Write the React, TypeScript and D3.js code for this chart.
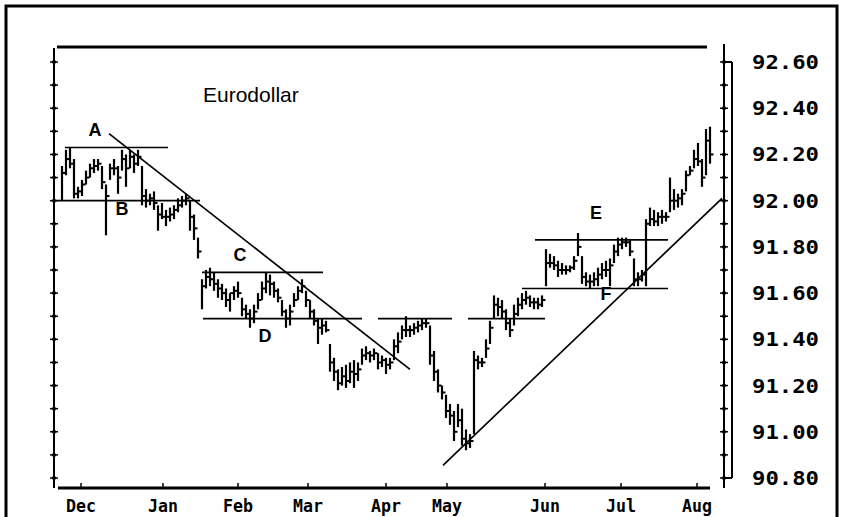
import React from "react";
import * as d3 from "d3";

// ---- data ----
const highs = [
  92.15, 92.22, 92.23, 92.18, 92.06, 92.09, 92.13, 92.16, 92.18, 92.18,
  92.15, 92.07, 92.16, 92.18, 92.15, 92.22, 92.2, 92.22, 92.2, 92.22,
  92.15, 92.05, 92.03, 92.04, 91.98, 91.99, 91.96, 91.97, 91.98, 92.01,
  92.02, 92.03, 92.0, 91.94, 91.84, 91.66, 91.7, 91.71, 91.69, 91.66,
  91.64, 91.62, 91.6, 91.63, 91.65, 91.58, 91.55, 91.53, 91.55, 91.6,
  91.65, 91.69, 91.68, 91.65, 91.62, 91.57, 91.53, 91.55, 91.6, 91.63,
  91.66, 91.61, 91.57, 91.53, 91.49, 91.49, 91.48, 91.38, 91.32, 91.27,
  91.28, 91.29, 91.3, 91.31, 91.3, 91.36, 91.37, 91.35, 91.36, 91.34,
  91.33, 91.32, 91.32, 91.4, 91.43, 91.46, 91.5, 91.46, 91.47, 91.48,
  91.49, 91.49, 91.46, 91.35, 91.27, 91.2, 91.16, 91.12, 91.09, 91.12,
  91.1, 91.01, 90.99, 91.35, 91.33, 91.32, 91.4, 91.48, 91.59, 91.58,
  91.57, 91.53, 91.49, 91.55, 91.58, 91.6, 91.61, 91.59, 91.58, 91.58,
  91.59, 91.79, 91.77, 91.76, 91.74, 91.73, 91.72, 91.72, 91.76, 91.86,
  91.76, 91.69, 91.68, 91.69, 91.71, 91.73, 91.74, 91.75, 91.81, 91.84,
  91.84, 91.84, 91.83, 91.75, 91.69, 91.7, 91.92, 91.97, 91.96, 91.95,
  91.96, 91.95, 92.1, 92.05, 92.03, 92.05, 92.13, 92.15, 92.22, 92.25,
  92.18, 92.31, 92.32,
];
const lows = [
  92.0, 92.11, 92.14, 92.01, 92.01, 92.02, 92.07, 92.1, 92.12, 92.13,
  92.05, 91.85, 92.09, 92.11, 92.03, 92.13, 92.06, 92.14, 92.12, 92.15,
  91.98, 91.97, 91.98, 91.96, 91.87, 91.92, 91.89, 91.91, 91.92, 91.95,
  91.97, 91.98, 91.87, 91.83, 91.75, 91.53, 91.62, 91.63, 91.61, 91.58,
  91.57, 91.54, 91.52, 91.57, 91.58, 91.5, 91.49, 91.45, 91.47, 91.53,
  91.57, 91.6, 91.59, 91.58, 91.56, 91.5, 91.45, 91.46, 91.54, 91.57,
  91.6, 91.54, 91.49, 91.46, 91.38, 91.42, 91.43, 91.26, 91.22, 91.18,
  91.2, 91.19, 91.21, 91.19, 91.22, 91.29, 91.31, 91.3, 91.31, 91.27,
  91.28, 91.25, 91.27, 91.31, 91.34, 91.4, 91.41, 91.41, 91.42, 91.43,
  91.44, 91.45, 91.29, 91.22, 91.17, 91.14, 91.06, 91.03, 90.96, 91.02,
  90.94, 90.92, 90.93, 90.99, 91.27, 91.28, 91.32, 91.38, 91.49, 91.5,
  91.49, 91.44, 91.41, 91.46, 91.5, 91.53, 91.55, 91.54, 91.53, 91.53,
  91.54, 91.63, 91.71, 91.7, 91.67, 91.68, 91.68, 91.69, 91.7, 91.76,
  91.64, 91.63, 91.62, 91.63, 91.63, 91.66, 91.67, 91.63, 91.73, 91.76,
  91.79, 91.8, 91.76, 91.63, 91.63, 91.65, 91.63, 91.89, 91.89, 91.89,
  91.9, 91.91, 91.95, 91.96, 91.97, 91.98, 92.04, 92.11, 92.14, 92.15,
  92.06, 92.11, 92.16,
];
const closes = [
  92.12, 92.18, 92.16, 92.03, 92.04, 92.07, 92.1, 92.14, 92.15, 92.16,
  92.08, 92.02, 92.14, 92.14, 92.1, 92.18, 92.14, 92.19, 92.16, 92.19,
  92.02, 92.0, 92.01, 91.99, 91.94, 91.93, 91.93, 91.94, 91.96, 91.98,
  92.0, 92.01, 91.93, 91.88, 91.78, 91.63, 91.67, 91.66, 91.64, 91.62,
  91.6, 91.57, 91.6, 91.61, 91.6, 91.53, 91.51, 91.49, 91.52, 91.57,
  91.62, 91.65, 91.64, 91.61, 91.58, 91.52, 91.49, 91.52, 91.57, 91.61,
  91.63, 91.57, 91.52, 91.48, 91.45, 91.46, 91.44, 91.3, 91.26, 91.21,
  91.24, 91.22, 91.26, 91.25, 91.27, 91.33, 91.34, 91.33, 91.34, 91.3,
  91.31, 91.29, 91.3, 91.37, 91.39, 91.44, 91.44, 91.44, 91.45, 91.46,
  91.47, 91.47, 91.33, 91.26, 91.2, 91.17, 91.09, 91.07, 91.0, 91.05,
  90.97, 90.95, 90.96, 91.31, 91.3, 91.3, 91.36, 91.45, 91.55, 91.54,
  91.52, 91.47, 91.44, 91.51, 91.55, 91.57, 91.58, 91.56, 91.56, 91.55,
  91.57, 91.73, 91.73, 91.72, 91.7, 91.7, 91.7, 91.71, 91.74, 91.8,
  91.67, 91.65, 91.65, 91.66, 91.68, 91.7, 91.7, 91.72, 91.78, 91.81,
  91.82, 91.82, 91.78, 91.66, 91.66, 91.68, 91.9, 91.92, 91.91, 91.93,
  91.93, 91.93, 92.0, 92.0, 92.01, 92.03, 92.11, 92.13, 92.18, 92.17,
  92.1, 92.26, 92.2,
];

const months = ["Dec", "Jan", "Feb", "Mar", "Apr", "May", "Jun", "Jul", "Aug"];
const monthPos = [4.75, 25.25, 44, 61.5, 81, 96.25, 120.75, 139.75, 158.75];

const priceTicks = [92.6, 92.4, 92.2, 92.0, 91.8, 91.6, 91.4, 91.2, 91.0, 90.8];
const minorTicks = d3.range(0, 19).map((i) => +(90.8 + i * 0.1).toFixed(2));

// horizontal support/resistance lines: price, fromIndex, toIndex
const levelPrices = [92.23, 92.0, 91.69, 91.49, 91.49, 91.49, 91.83, 91.62];
const levelFrom = [0.75, -2, 35, 35.25, 79, 101.5, 118.25, 115];
const levelTo = [26.5, 34.5, 65.25, 75, 97.5, 120.75, 151.5, 151.5];

// trend lines: [idx, price] pairs
const downTrend = [[11.75, 92.29], [87, 91.27]];
const upTrend = [[95.25, 90.855], [165, 92.01]];

const letters = ["A", "B", "C", "D", "E", "F"];
const letterIdx = [8.25, 15, 44.5, 50.75, 133.5, 136];
const letterPrice = [92.28, 91.94, 91.74, 91.39, 91.92, 91.57];

export default function App() {
  const W = 842;
  const H = 517;
  const x = d3.scaleLinear().domain([0, 162]).range([62, 710]);
  const y = d3.scaleLinear().domain([90.8, 92.6]).range([478, 62]);
  const mono = "'DejaVu Sans Mono', monospace";
  const sans = "'Liberation Sans', Arial, sans-serif";
  const line = d3.line<number[]>().x((d) => x(d[0])).y((d) => y(d[1]));

  return (
    <svg
      width={W}
      height={H}
      style={{ position: "absolute", left: 0, top: 0, background: "#fff" }}
    >
      <rect x={0} y={0} width={W} height={H} fill="#fff" />
      {/* outer frame */}
      <rect x={6} y={6} width={831} height={530} fill="none" stroke="#000" strokeWidth={3} />

      {/* top line */}
      <line x1={57} x2={707} y1={47} y2={47} stroke="#000" strokeWidth={2.8} />
      {/* left axis */}
      <line x1={54} x2={54} y1={48} y2={488} stroke="#000" strokeWidth={2} />
      {minorTicks.map((p) => (
        <g key={"lt" + p}>
          <line x1={50} x2={58} y1={y(p)} y2={y(p)} stroke="#000" strokeWidth={1.5} />
          <circle cx={54} cy={y(p)} r={2} fill="#000" />
        </g>
      ))}
      {/* right axis */}
      <line x1={724} x2={724} y1={44} y2={488} stroke="#000" strokeWidth={2} />
      <line x1={732} x2={732} y1={y(92.6)} y2={y(90.8)} stroke="#000" strokeWidth={2} />
      <line x1={724} x2={732} y1={y(92.6)} y2={y(92.6)} stroke="#000" strokeWidth={2} />
      <line x1={724} x2={732} y1={y(90.8)} y2={y(90.8)} stroke="#000" strokeWidth={2} />
      {minorTicks.map((p) => (
        <g key={"rt" + p}>
          <line x1={720} x2={728} y1={y(p)} y2={y(p)} stroke="#000" strokeWidth={1.5} />
          <circle cx={724} cy={y(p)} r={2} fill="#000" />
        </g>
      ))}
      {priceTicks.map((p) => (
        <text
          key={"pl" + p}
          x={752}
          y={y(p) + 7}
          fontFamily={mono}
          fontWeight="bold"
          fontSize={20}
          textLength={67}
          lengthAdjust="spacingAndGlyphs"
        >
          {p.toFixed(2)}
        </text>
      ))}

      {/* bottom axis */}
      <line x1={58} x2={710} y1={488} y2={488} stroke="#000" strokeWidth={3} />
      {monthPos.map((m, i) => (
        <g key={months[i]}>
          <line x1={x(m)} x2={x(m)} y1={483} y2={488} stroke="#000" strokeWidth={1.5} />
          <text
            x={x(m)}
            y={512}
            textAnchor="middle"
            fontFamily={mono}
            fontWeight="bold"
            fontSize={18}
            textLength={months[i].length * 10}
            lengthAdjust="spacingAndGlyphs"
          >
            {months[i]}
          </text>
        </g>
      ))}

      {/* level lines */}
      {levelPrices.map((p, i) => (
        <line
          key={"lv" + i}
          x1={x(levelFrom[i])}
          x2={x(levelTo[i])}
          y1={y(p)}
          y2={y(p)}
          stroke="#000"
          strokeWidth={1.7}
        />
      ))}

      {/* price bars */}
      {highs.map((h, i) => (
        <g key={"b" + i}>
          <line x1={x(i)} x2={x(i)} y1={y(h)} y2={y(lows[i])} stroke="#000" strokeWidth={2.2} />
          <line x1={x(i)} x2={x(i) + 3.5} y1={y(closes[i])} y2={y(closes[i])} stroke="#000" strokeWidth={2} />
        </g>
      ))}

      {/* trend lines */}
      <path d={line(downTrend) || ""} fill="none" stroke="#000" strokeWidth={1.7} />
      <path d={line(upTrend) || ""} fill="none" stroke="#000" strokeWidth={1.7} />

      {/* labels */}
      <text x={203} y={102} fontFamily={sans} fontSize={21} fill="#000">
        Eurodollar
      </text>
      {letters.map((l, i) => (
        <text
          key={l}
          x={x(letterIdx[i])}
          y={y(letterPrice[i])}
          textAnchor="middle"
          fontFamily={sans}
          fontSize={18}
          fontWeight="bold"
        >
          {l}
        </text>
      ))}
    </svg>
  );
}
